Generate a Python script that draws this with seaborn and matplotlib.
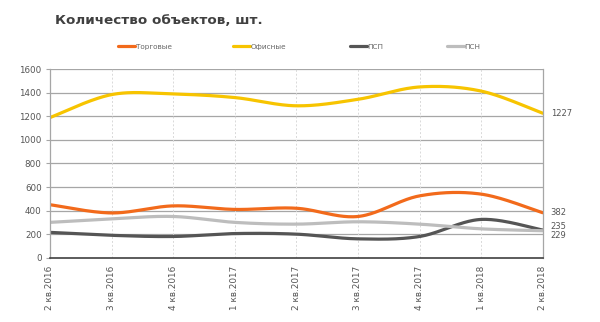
import numpy as np
import pandas as pd
import matplotlib
matplotlib.use("Agg")
import matplotlib.pyplot as plt
import seaborn as sns

quarters = ["2 кв.2016", "3 кв.2016", "4 кв.2016", "1 кв.2017", "2 кв.2017",
            "3 кв.2017", "4 кв.2017", "1 кв.2018", "2 кв.2018"]
trade = [450, 380, 440, 410, 420, 350, 525, 540, 382]
office = [1190, 1385, 1390, 1360, 1290, 1345, 1450, 1415, 1227]
psp = [215, 190, 180, 205, 200, 160, 180, 325, 235]
psn = [300, 330, 350, 300, 285, 305, 285, 245, 229]

series_names = ["Торговые", "Офисные", "ПСП", "ПСН"]
series_values = [trade, office, psp, psn]
colors = ["#F26A1B", "#F7C400", "#555555", "#BDBDBD"]

sns.set_theme(style="white")
plt.rcParams["font.family"] = ["DejaVu Sans"]


def smooth(xs, ys, n=40):
    """Smoothed line: cubic Bezier segments with Catmull-Rom handles."""
    xs = np.asarray(xs, float)
    ys = np.asarray(ys, float)
    px = np.concatenate([[xs[0]], xs, [xs[-1]]])
    py = np.concatenate([[ys[0]], ys, [ys[-1]]])
    out_x, out_y = [], []
    t = np.linspace(0, 1, n)
    for i in range(1, len(px) - 2):
        p0 = np.array([px[i], py[i]])
        p3 = np.array([px[i + 1], py[i + 1]])
        c1 = p0 + (np.array([px[i + 1], py[i + 1]]) - np.array([px[i - 1], py[i - 1]])) / 6
        c2 = p3 - (np.array([px[i + 2], py[i + 2]]) - np.array([px[i], py[i]])) / 6
        b = ((1 - t) ** 3)[:, None] * p0 + (3 * (1 - t) ** 2 * t)[:, None] * c1 \
            + (3 * (1 - t) * t ** 2)[:, None] * c2 + (t ** 3)[:, None] * p3
        out_x.extend(b[:, 0])
        out_y.extend(b[:, 1])
    return np.array(out_x), np.array(out_y)


fig = plt.figure(figsize=(6.0, 3.22), dpi=100)
ax = fig.add_axes([0.0833, 0.1997, 0.8212, 0.5851])

x_idx = np.arange(len(quarters))
for name, vals, col in zip(series_names, series_values, colors):
    sx, sy = smooth(x_idx, vals)
    df = pd.DataFrame({"x": sx, "y": sy})
    sns.lineplot(data=df, x="x", y="y", ax=ax, color=col, lw=2.3,
                 sort=False, estimator=None, label=name, solid_capstyle="round")

ax.set_xlim(0, len(quarters) - 1)
ax.set_ylim(0, 1600)
ax.set_yticks(range(0, 1601, 200))
ax.set_yticklabels([str(v) for v in range(0, 1601, 200)], fontsize=6.3, color="#555555")
ax.set_xticks(x_idx)
ax.set_xticklabels(quarters, rotation=90, fontsize=6.4, color="#555555", va="top", ha="center")
ax.set_xlabel("")
ax.set_ylabel("")

# horizontal grid solid, vertical grid dotted
for v in range(200, 1601, 200):
    ax.axhline(v, color="#A6A6A6", lw=0.9, zorder=0)
for i in x_idx[1:-1]:
    ax.axvline(i, color="#D9D9D9", lw=0.7, ls=(0, (2, 2)), zorder=0)

for side in ["left", "right"]:
    ax.spines[side].set_visible(True)
    ax.spines[side].set_color("#A6A6A6")
    ax.spines[side].set_linewidth(0.9)
ax.spines["top"].set_visible(False)
ax.spines["bottom"].set_color("#404040")
ax.spines["bottom"].set_linewidth(1.2)
ax.tick_params(axis="x", direction="out", length=4, width=1, color="#404040", pad=2)
ax.tick_params(axis="y", direction="out", length=3, width=0.8, color="#A6A6A6", pad=3, left=True)

# end-of-series value labels
offsets = {"Торговые": 0, "Офисные": 0, "ПСП": 32, "ПСН": -42}
for name, vals in zip(series_names, series_values):
    ax.text(len(quarters) - 1 + 0.13, vals[-1] + offsets[name], str(vals[-1]),
            fontsize=6.0, color="#555555", va="center", ha="left")

# legend entries placed individually across the top
ax.legend_.remove()
handles, labels = ax.get_legend_handles_labels()
legend_x = [118, 233, 350, 447]
for h, lab, lx in zip(handles, labels, legend_x):
    leg = fig.legend([h], [lab], loc="center left", bbox_to_anchor=(lx / 600, 1 - 47 / 322),
                     frameon=False, fontsize=5.2, labelcolor="#666666", handlelength=2.3,
                     handletextpad=0.15, borderpad=0, borderaxespad=0)

fig.text(0.092, 0.937, "Количество объектов, шт.", fontsize=9.7, fontweight="bold",
         color="#404040", va="center", ha="left")

fig.savefig("out.png", dpi=100, facecolor="white")
